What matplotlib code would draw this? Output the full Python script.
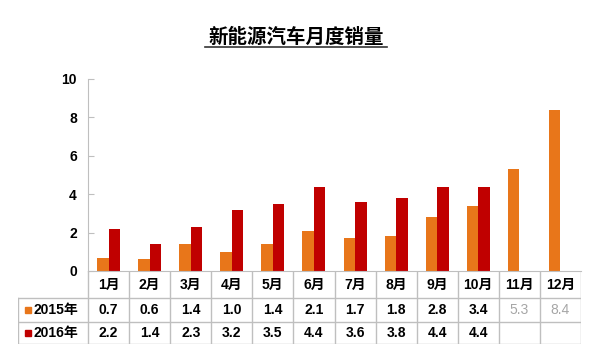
import matplotlib
matplotlib.use('Agg')
import matplotlib.pyplot as plt
import numpy as np

plt.rcParams['font.family'] = ['Liberation Sans', 'Noto Sans CJK SC', 'DejaVu Sans']

# 数据
title = '新能源汽车月度销量'
months = ['1月', '2月', '3月', '4月', '5月', '6月', '7月', '8月', '9月', '10月', '11月', '12月']
sales_2015 = [0.7, 0.6, 1.4, 1.0, 1.4, 2.1, 1.7, 1.8, 2.8, 3.4, 5.3, 8.4]
sales_2016 = [2.2, 1.4, 2.3, 3.2, 3.5, 4.4, 3.6, 3.8, 4.4, 4.4]
yticks = [0, 2, 4, 6, 8, 10]

c2015 = '#E8761A'
c2016 = '#C00000'
grid_c = '#BFBFBF'

W, H = 601, 361
fig = plt.figure(figsize=(W / 100, H / 100), dpi=100)
fig.patch.set_facecolor('white')

def px_axes(x0, y0, x1, y1):
    # 像素坐标 (左上原点) -> figure 坐标
    return fig.add_axes([x0 / W, 1 - y1 / H, (x1 - x0) / W, (y1 - y0) / H])

ax_left, ax_right, ax_top, ax_bot = 88, 581, 79, 271
ax = px_axes(ax_left, ax_top, ax_right, ax_bot)

x = np.arange(len(months))
bw = 0.28
ax.bar(x[:len(sales_2015)] - 0.14, sales_2015, width=bw, color=c2015)
ax.bar(x[:len(sales_2016)] + 0.14, sales_2016, width=bw, color=c2016)

ax.set_xlim(-0.5, len(months) - 0.5)
ax.set_ylim(0, 10)
ax.set_yticks(yticks)
ax.set_yticklabels([str(t) for t in yticks], fontsize=10, fontweight='bold')
ax.tick_params(axis='y', direction='in', length=4, color=grid_c, pad=8)
ax.set_xticks([])
for s in ['top', 'right']:
    ax.spines[s].set_visible(False)
ax.spines['left'].set_color(grid_c)
ax.spines['bottom'].set_color(grid_c)

# 标题 + 下划线
fig.text(296 / W, 1 - 37 / H, title, ha='center', va='center',
         fontsize=14, fontweight='bold', family=['Noto Sans CJK SC'])
fig.add_artist(plt.Line2D([205 / W, 387 / W], [1 - 47 / H, 1 - 47 / H],
                          color='#333333', lw=1.2))

# 数据表
tbl_left, tbl_bot = 18, 344
row_y = [271, 298, 322, 344]
col_w = (ax_right - ax_left) / len(months)
xl = -0.5 - (ax_left - tbl_left) / col_w
tb = px_axes(tbl_left, ax_bot, ax_right, tbl_bot)
tb.set_xlim(xl, len(months) - 0.5)
tb.set_ylim(tbl_bot, ax_bot)
tb.axis('off')

for k in range(len(months) + 1):
    tb.plot([k - 0.5, k - 0.5], [row_y[0], row_y[3]], color=grid_c, lw=1)
tb.plot([xl, xl], [row_y[1], row_y[3]], color=grid_c, lw=1)
for yy in row_y[1:]:
    tb.plot([xl, len(months) - 0.5], [yy, yy], color=grid_c, lw=1)

mid = [(row_y[i] + row_y[i + 1]) / 2 for i in range(3)]
for i, m in enumerate(months):
    tb.text(i, mid[0], m, ha='center', va='center', fontsize=10, fontweight='bold')
for i, v in enumerate(sales_2015):
    if i < len(sales_2016):
        tb.text(i, mid[1], f'{v:.1f}', ha='center', va='center', fontsize=10, fontweight='bold')
    else:
        tb.text(i, mid[1], f'{v:.1f}', ha='center', va='center', fontsize=10, color='#A6A6A6')
for i, v in enumerate(sales_2016):
    tb.text(i, mid[2], f'{v:.1f}', ha='center', va='center', fontsize=10, fontweight='bold')

sq_x = xl + 10 / col_w
lab_x = xl + 15 / col_w
for yy, c, lab in [(mid[1], c2015, '2015年'), (mid[2], c2016, '2016年')]:
    tb.plot([sq_x], [yy], marker='s', ms=5, color=c, ls='none')
    tb.text(lab_x, yy, lab, ha='left', va='center', fontsize=10, fontweight='bold')

fig.savefig('out.png', dpi=100, facecolor='white')
